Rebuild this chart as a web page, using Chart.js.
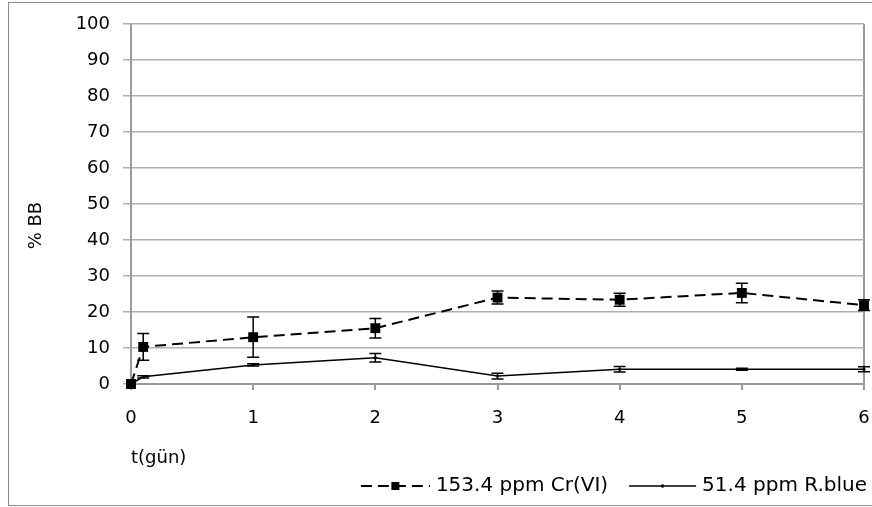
<!DOCTYPE html>
<html>
<head>
<meta charset="utf-8">
<script src="https://cdn.jsdelivr.net/npm/chart.js@4/dist/chart.umd.min.js"></script>
<style>
  html, body { margin: 0; padding: 0; background: #fff; overflow: hidden; }
  #wrap { position: relative; width: 872px; height: 507px; }
  canvas { display: block; }
</style>
</head>
<body>
<div id="wrap"><canvas id="chart"></canvas></div>
<script>
// days and measured %BB with error bars
const days = [0, 0.1, 1, 2, 3, 4, 5, 6];
const crValues = [0, 10.3, 13.0, 15.5, 24.0, 23.4, 25.3, 21.9];
const crErrors = [0, 3.7, 5.6, 2.7, 1.8, 1.8, 2.7, 1.5];
const rbValues = [0, 2.0, 5.3, 7.3, 2.2, 4.1, 4.1, 4.1];
const rbErrors = [0, 0.3, 0.3, 1.2, 0.8, 0.75, 0.3, 0.7];
const seriesNames = ['153.4 ppm Cr(VI)', '51.4 ppm R.blue'];
const yTitle = '% BB';
const xTitle = 't(gün)';

const FAMILY = '"DejaVu Sans", sans-serif';
const FONT = { family: FAMILY, size: 18 };
const LEGEND_SIZE = 20;
const GRID = '#b0b0b0';
const AXIS = '#9a9a9a';

const toPoints = (vals) => vals.map((v, i) => ({ x: days[i], y: v }));

// error bars + frame + y title + legend
const extras = {
    id: 'extras',
    beforeDraw(chart) {
        const ctx = chart.ctx;
        ctx.save();
        ctx.strokeStyle = '#8c8c8c';
        ctx.lineWidth = 1;
        ctx.strokeRect(8.5, 2.5, chart.width + 10, chart.height - 4);
        ctx.restore();
    },
    afterDatasetsDraw(chart) {
        const ctx = chart.ctx;
        const y = chart.scales.y;
        const errs = [crErrors, rbErrors];
        ctx.save();
        ctx.strokeStyle = '#000';
        ctx.lineWidth = 1.5;
        chart.data.datasets.forEach((ds, i) => {
            const meta = chart.getDatasetMeta(i);
            meta.data.forEach((pt, j) => {
                const e = errs[i][j];
                if (!e) return;
                const v = ds.data[j].y;
                const top = y.getPixelForValue(v + e);
                const bot = y.getPixelForValue(v - e);
                ctx.beginPath();
                ctx.moveTo(pt.x, top); ctx.lineTo(pt.x, bot);
                ctx.moveTo(pt.x - 6, top); ctx.lineTo(pt.x + 6, top);
                ctx.moveTo(pt.x - 6, bot); ctx.lineTo(pt.x + 6, bot);
                ctx.stroke();
            });
        });
        ctx.restore();
    },
    afterDraw(chart) {
        const ctx = chart.ctx;
        const area = chart.chartArea;
        ctx.save();
        ctx.fillStyle = '#000';

        // y axis title
        ctx.font = FONT.size + 'px ' + FAMILY;
        ctx.save();
        ctx.translate(36, area.top + (area.bottom - area.top) * 0.56);
        ctx.rotate(-Math.PI / 2);
        ctx.textAlign = 'center';
        ctx.textBaseline = 'middle';
        ctx.fillText(yTitle, 0, 0);
        ctx.restore();

        // legend
        ctx.font = LEGEND_SIZE + 'px ' + FAMILY;
        const ly = 486;
        const w2 = ctx.measureText(seriesNames[1]).width;
        const t2 = area.right + 3 - w2;
        const s2b = t2 - 6, s2a = s2b - 67;
        const w1 = ctx.measureText(seriesNames[0]).width;
        const t1 = s2a - 21 - w1;
        const s1b = t1 - 6, s1a = s1b - 69;
        ctx.textBaseline = 'middle';
        ctx.textAlign = 'left';
        ctx.fillText(seriesNames[0], t1, ly);
        ctx.fillText(seriesNames[1], t2, ly);

        ctx.strokeStyle = '#000';
        ctx.lineWidth = 2;
        ctx.setLineDash([11, 6]);
        ctx.beginPath(); ctx.moveTo(s1a, ly); ctx.lineTo(s1b, ly); ctx.stroke();
        ctx.setLineDash([]);
        const m1 = (s1a + s1b) / 2;
        ctx.fillRect(m1 - 4, ly - 4, 8, 8);

        ctx.lineWidth = 1.5;
        ctx.beginPath(); ctx.moveTo(s2a, ly); ctx.lineTo(s2b, ly); ctx.stroke();
        ctx.beginPath(); ctx.arc((s2a + s2b) / 2, ly, 1.8, 0, Math.PI * 2); ctx.fill();
        ctx.restore();
    }
};

const chart = new Chart(document.getElementById('chart'), {
    type: 'line',
    data: {
        datasets: [{
            label: seriesNames[0],
            data: toPoints(crValues),
            borderColor: '#000',
            backgroundColor: '#000',
            borderWidth: 2,
            borderDash: [11, 6],
            pointStyle: 'rect',
            pointRadius: 7,
            pointBorderWidth: 0,
            tension: 0,
            clip: false
        }, {
            label: seriesNames[1],
            data: toPoints(rbValues),
            borderColor: '#000',
            backgroundColor: '#000',
            borderWidth: 1.5,
            pointStyle: 'circle',
            pointRadius: 1.6,
            pointBorderWidth: 0,
            tension: 0,
            clip: false
        }]
    },
    options: {
        responsive: true,
        maintainAspectRatio: false,
        devicePixelRatio: 1,
        animation: false,
        layout: { padding: { left: 0, top: 24, right: 8, bottom: 0 } },
        plugins: { legend: { display: false }, tooltip: { enabled: false } },
        scales: {
            x: {
                type: 'linear',
                min: 0,
                max: 6,
                afterFit: (s) => { s.height = 123; s.paddingLeft = 0; s.paddingRight = 8; },
                ticks: { stepSize: 1, color: '#000', font: FONT, padding: 18, maxRotation: 0 },
                grid: {
                    drawOnChartArea: true,
                    color: (c) => (c.tick && c.tick.value === 6 ? AXIS : 'transparent'),
                    tickColor: AXIS,
                    tickLength: 6,
                    lineWidth: 2
                },
                border: { color: AXIS, width: 2 },
                title: {
                    display: true, text: xTitle, align: 'start', color: '#000',
                    font: FONT, padding: { top: 0, bottom: 38 }
                }
            },
            y: {
                min: 0,
                max: 100,
                afterFit: (s) => { s.width = 131; },
                ticks: { stepSize: 10, color: '#000', font: FONT, padding: 13 },
                grid: { color: GRID, tickColor: GRID, tickLength: 8, lineWidth: 1.5 },
                border: { color: AXIS, width: 2 }
            }
        }
    },
    plugins: [extras]
});
</script>
</body>
</html>
